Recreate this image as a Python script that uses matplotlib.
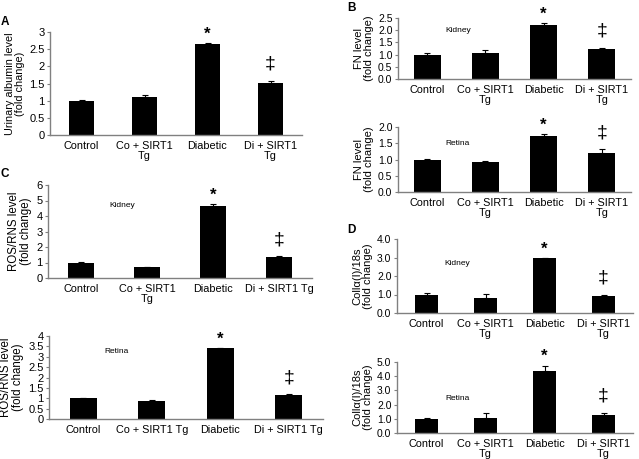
import matplotlib
matplotlib.use("Agg")
import matplotlib.pyplot as plt
import numpy as np

plt.rcParams['font.family'] = ['Liberation Sans', 'DejaVu Sans']

groups = ["Control", "Co + SIRT1\nTg", "Diabetic", "Di + SIRT1\nTg"]
groups_c1 = ["Control", "Co + SIRT1\nTg", "Diabetic", "Di + SIRT1 Tg"]
groups_c2 = ["Control", "Co + SIRT1 Tg", "Diabetic", "Di + SIRT1 Tg"]

a_vals = [1.0, 1.12, 2.65, 1.52]
a_err = [0.02, 0.04, 0.02, 0.05]
b_kid_vals = [1.0, 1.08, 2.23, 1.25]
b_kid_err = [0.08, 0.10, 0.05, 0.03]
b_ret_vals = [1.0, 0.91, 1.73, 1.19]
b_ret_err = [0.03, 0.04, 0.05, 0.12]
c_kid_vals = [1.0, 0.70, 4.65, 1.35]
c_kid_err = [0.03, 0.03, 0.10, 0.04]
c_ret_vals = [1.0, 0.88, 3.40, 1.15]
c_ret_err = [0.02, 0.02, 0.03, 0.04]
d_kid_vals = [1.0, 0.83, 2.95, 0.92]
d_kid_err = [0.06, 0.18, 0.03, 0.05]
d_ret_vals = [1.0, 1.08, 4.40, 1.28]
d_ret_err = [0.07, 0.30, 0.35, 0.14]

W, H = 639, 459
fig = plt.figure(figsize=(W / 100, H / 100), dpi=100)

def px_axes(l, r, t, b):
    return fig.add_axes([l / W, 1 - b / H, (r - l) / W, (b - t) / H])

def panel(ax, vals, err, labels, ylim, yticks, ytlabels, ylabel, tissue=None,
          tpos=None, width=0.4, ytsize=7.5, ylsize=8.0):
    x = np.arange(len(vals))
    ax.bar(x, vals, width=width, color='black', zorder=2)
    ax.errorbar(x, vals, yerr=[np.zeros(len(vals)), err], fmt='none',
                ecolor='black', elinewidth=0.8, capsize=2, capthick=0.8, zorder=3)
    ax.set_xlim(-0.5, len(vals) - 0.5)
    ax.set_ylim(*ylim)
    ax.set_yticks(yticks)
    ax.set_yticklabels(ytlabels)
    ax.set_xticks(x)
    ax.set_xticklabels(labels, fontsize=7.8, linespacing=1.0)
    ax.tick_params(axis='x', length=0, pad=4)
    ax.tick_params(axis='y', length=2.5, width=0.8, color='#808080',
                   labelsize=ytsize, pad=1.5)
    for s in ['top', 'right']:
        ax.spines[s].set_visible(False)
    for s in ['left', 'bottom']:
        ax.spines[s].set_color('#808080')
        ax.spines[s].set_linewidth(1.0)
    ax.set_ylabel(ylabel, fontsize=ylsize, linespacing=1.0, labelpad=3)
    # significance marks
    top_d = vals[2] + err[2]
    top_i = vals[3] + err[3]
    ax.annotate('*', (2, top_d), xytext=(0, 6.5), textcoords='offset points',
                ha='center', va='center', fontsize=12, fontweight='bold')
    ax.annotate('\u2021', (3, top_i), xytext=(0, 12), textcoords='offset points',
                ha='center', va='center', fontsize=14)
    if tissue:
        ax.text(tpos[0], tpos[1], tissue, fontsize=6, ha='center', va='center')

# Panel A
axA = px_axes(50, 302, 32, 135)
panel(axA, a_vals, a_err, groups, (0, 3), [0, 0.5, 1, 1.5, 2, 2.5, 3],
      ["0", "0.5", "1", "1.5", "2", "2.5", "3"],
      "Urinary albumin level\n(fold change)", ytsize=8, ylsize=7.8)

# Panel B
axB1 = px_axes(398, 631, 18, 79)
panel(axB1, b_kid_vals, b_kid_err, groups, (0, 2.5), [0, 0.5, 1, 1.5, 2, 2.5],
      ["0.0", "0.5", "1.0", "1.5", "2.0", "2.5"], "FN level\n(fold change)",
      "Kidney", (0.53, 2.0), width=0.46)
axB2 = px_axes(398, 631, 127, 192)
panel(axB2, b_ret_vals, b_ret_err, groups, (0, 2.0), [0, 0.5, 1, 1.5, 2],
      ["0.0", "0.5", "1.0", "1.5", "2.0"], "FN level\n(fold change)",
      "Retina", (0.52, 1.5), width=0.46)

# Panel C
axC1 = px_axes(48, 312, 185, 278)
panel(axC1, c_kid_vals, c_kid_err, groups_c1, (0, 6), [0, 1, 2, 3, 4, 5, 6],
      ["0", "1", "2", "3", "4", "5", "6"], "ROS/RNS level\n(fold change)",
      "Kidney", (0.62, 4.65), ytsize=8, ylsize=8.3)
axC2 = px_axes(49, 323, 336, 419)
panel(axC2, c_ret_vals, c_ret_err, groups_c2, (0, 4),
      [0, 0.5, 1, 1.5, 2, 2.5, 3, 3.5, 4],
      ["0", "0.5", "1", "1.5", "2", "2.5", "3", "3.5", "4"],
      "ROS/RNS level\n(fold change)", "Retina", (0.48, 3.23), ytsize=8, ylsize=8.3)

# Panel D
axD1 = px_axes(397, 633, 239, 313)
panel(axD1, d_kid_vals, d_kid_err, groups, (0, 4), [0, 1, 2, 3, 4],
      ["0.0", "1.0", "2.0", "3.0", "4.0"], "Coll\u03b1(I)/18s\n(fold change)",
      "Kidney", (0.52, 2.7))
axD2 = px_axes(397, 633, 362, 433)
panel(axD2, d_ret_vals, d_ret_err, groups, (0, 5), [0, 1, 2, 3, 4, 5],
      ["0.0", "1.0", "2.0", "3.0", "4.0", "5.0"], "Coll\u03b1(I)/18s\n(fold change)",
      "Retina", (0.52, 2.46))

# Panel letters
for lab, (px, py) in {"A": (5, 22), "B": (352, 8), "C": (5, 174), "D": (351, 230)}.items():
    fig.text(px / W, 1 - py / H, lab, fontsize=8.5, fontweight='bold',
             ha='center', va='center')

fig.savefig("out.png", dpi=100)
